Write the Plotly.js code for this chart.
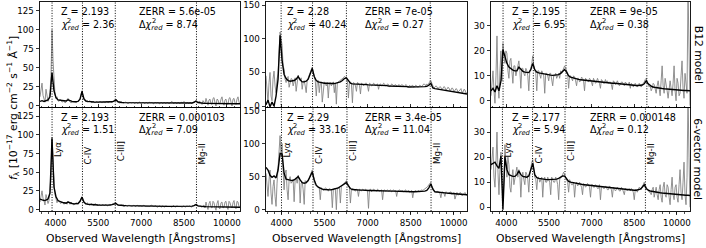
<!DOCTYPE html>
<html><head><meta charset="utf-8">
<script src="https://cdn.plot.ly/plotly-3.0.1.min.js"></script>
<style>html,body{margin:0;padding:0;background:#fff}#chart{width:706px;height:248px}</style>
</head><body><div id="chart"></div>
<script>
// Model wavelength grid (Angstroms)
const wavelength = [
3460,3530,3600,3670,3740,3810,3880,3950,4020,4090,
4160,4230,4300,4370,4440,4510,4580,4650,4720,4790,
4860,4930,5000,5070,5140,5210,5280,5350,5420,5490,
5560,5630,5700,5770,5840,5910,5980,6050,6120,6190,
6260,6330,6400,6470,6540,6610,6680,6750,6820,6890,
6960,7030,7100,7170,7240,7310,7380,7450,7520,7590,
7660,7730,7800,7870,7940,8010,8080,8150,8220,8290,
8360,8430,8500,8570,8640,8710,8780,8850,8920,8990,
9060,9130,9200,9270,9340,9410,9480,9550,9620,9690,
9760,9830,9900,9970,10040,10110,10180,10250,10320,10390,
10460];
// Observed spectrum wavelength grid (Angstroms)
const obsWavelength = [
3460,3495,3530,3565,3600,3635,3670,3705,3740,3775,
3810,3845,3880,3915,3950,3985,4020,4055,4090,4125,
4160,4195,4230,4265,4300,4335,4370,4405,4440,4475,
4510,4545,4580,4615,4650,4685,4720,4755,4790,4825,
4860,4895,4930,4965,5000,5035,5070,5105,5140,5175,
5210,5245,5280,5315,5350,5385,5420,5455,5490,5525,
5560,5595,5630,5665,5700,5735,5770,5805,5840,5875,
5910,5945,5980,6015,6050,6085,6120,6155,6190,6225,
6260,6295,6330,6365,6400,6435,6470,6505,6540,6575,
6610,6645,6680,6715,6750,6785,6820,6855,6890,6925,
6960,6995,7030,7065,7100,7135,7170,7205,7240,7275,
7310,7345,7380,7415,7450,7485,7520,7555,7590,7625,
7660,7695,7730,7765,7800,7835,7870,7905,7940,7975,
8010,8045,8080,8115,8150,8185,8220,8255,8290,8325,
8360,8395,8430,8465,8500,8535,8570,8605,8640,8675,
8710,8745,8780,8815,8850,8885,8920,8955,8990,9025,
9060,9095,9130,9165,9200,9235,9270,9305,9340,9375,
9410,9445,9480,9515,9550,9585,9620,9655,9690,9725,
9760,9795,9830,9865,9900,9935,9970,10005,10040,10075,
10110,10145,10180,10215,10250,10285,10320,10355,10390,10425,
10460];

// Panel meta (order: B12 row cols 1-3, then 6-vector row cols 1-3)
const redshift = [2.193, 2.28, 2.195, 2.193, 2.29, 2.177];
const zLabel = ["2.193","2.28","2.195","2.193","2.29","2.177"];
const zerrLabel = ["5.6e-05","7e-05","9e-05","0.000103","3.4e-05","0.000148"];
const chi2Label = ["2.36","40.24","6.95","1.51","33.16","5.94"];
const dchi2Label = ["8.74","0.27","0.38","7.09","11.04","0.12"];
const rowNames = ["B12 model","6-vector model"];
const lineNames = ["Lyα","C-IV","C-III]","Mg-II"];
const lineRest = [1215.67,1549.06,1908.73,2798.75];

// Observed flux (grey, on obsWavelength), 1e-17 erg/cm2/s/A
const obsTop1 = [12,20,30,14,8,5,22,15,6,10,18,40,100,60,28,15,10,12,7,6,
 9,7,5,6,7,4,5,8,10,7,6,4,5,6,6,5,4,5,6,8,
 9,14,20,13,9,7,6,5,5,6,7,5,4,6,5,4,5,6,4,5,
 6,5,4,5,5,4,5,6,4,5,6,5,5,6,7,8,9,7,5,4,
 4,5,5,4,4,5,5,4,3,4,5,4,4,5,4,3,5,4,3,5,
 5,3,4,5,4,3,5,4,3,5,4,4,5,3,3,5,4,4,5,3,
 3,5,4,3,5,4,3,5,4,3,4,5,6,4,3,5,4,3,5,4,
 3,5,4,4,6,4,3,5,4,3,5,4,3,5,6,5,7,5,4,6,
 6,4,2,7,5,3,10,4,1,8,9,3,2,10,11,4,0,9,8,3,
 3,9,12,4,1,8,9,3,2,10,11,5,0,9,10,4,2,9,12,5, 3];
const obsTop2 = [45,20,5,35,50,15,8,40,52,30,20,40,48,80,110,100,90,60,55,40,
 35,42,44,28,33,41,40,30,36,42,22,40,46,40,38,42,25,36,38,30,
 20,38,42,45,50,55,58,50,42,38,15,36,38,20,34,36,6,30,36,34,
 30,35,12,34,35,30,33,36,20,34,3,35,36,37,38,39,40,42,44,43,
 40,38,12,34,36,33,5,35,34,30,22,35,34,31,18,34,33,30,32,34,
 34,30,22,34,33,30,31,34,33,30,32,33,25,32,33,30,31,34,33,30,
 31,33,32,29,30,33,32,30,31,32,30,29,32,31,30,32,31,29,29,32,
 31,28,30,31,29,30,31,28,29,31,30,28,29,31,30,29,31,33,32,31,
 33,31,34,36,38,34,30,27,28,30,29,26,27,29,28,25,26,29,28,24,
 25,28,27,23,24,27,26,22,23,26,25,21,22,25,26,20,21,25,24,19, 20];
const obsTop3 = [2,8,12,4,-1,10,26,6,1,12,20,8,23,18,15,20,19,12,9,16,
 17,12,7,14,14,10,12,15,16,12,5,13,13,11,10,13,12,10,4,12,
 13,15,18,14,12,11,4,12,12,10,9,12,11,10,3,11,11,10,8,11,
 11,9,6,10,10,11,9,10,11,9,12,11,12,13,14,13,12,11,5,10,
 10,9,8,10,9.5,8,6,9,9,7.5,8,9.5,9,8,4,9,8.5,8,7.5,9,
 8.5,7.5,6,9,8,7,7.5,9,8,7,5,8.5,8,7,7,8.5,7.5,8,7,7.5,
 7.5,6.5,4.5,8,7.5,6.5,7,8,7,6,6.5,7.5,7.5,6.5,6,7.5,7,6.5,6.5,7.5,
 5,7,6.5,5.5,6.5,7,6,5.5,6.5,7,6,5.5,6.5,7,7.5,8.5,9,7.5,6.5,5.5,
 6,4,5,7,6.5,4.5,3,6,8,5,2,8,14,6,3,9,7,4,1,6,
 8,5,2,7,14,4,0,9,7,2,3,10,16,5,1,11,8,3,45,15, -2];
const obsBot1 = [10,18,25,15,12,6,20,14,8,12,24,45,97,55,35,20,14,9,12,10,
 9,8,11,9,7,10,9,7,11,8,7,9,9,7,6,8,8,9,7,8,
 10,14,17,14,10,8,7,9,8,6,6,8,7,6,5,8,7,6,5,7,
 6,5,6,7,5,6,7,5,5,7,6,6,7,7,8,9,9,7,6,5,
 5,6,6,5,4,5,6,4,5,6,5,4,4,5,6,4,4,6,5,4,
 5,4,4,5,6,4,4,5,5,4,4,6,5,4,4,5,5,3,4,5,
 5,3,4,5,3,4,5,4,4,5,5,4,3,5,5,3,4,5,4,4,
 5,4,3,4,5,3,4,5,4,5,5,3,4,5,6,6,7,6,5,4,
 5,4,3,5,6,2,10,4,0,8,11,3,2,11,9,3,-1,8,12,2,
 1,9,10,2,3,10,11,3,0,11,9,4,2,9,12,3,1,11,10,4, 2];
const obsBot2 = [55,30,20,45,60,25,8,35,45,20,5,40,65,90,112,80,100,60,30,55,
 60,30,15,45,50,40,42,46,12,45,48,40,52,46,10,40,42,30,8,44,
 40,44,45,48,52,55,60,52,44,38,36,35,34,33,15,33,32,29,30,33,
 32,31,28,32,31,30,3,30,32,31,0,33,33,34,10,35,36,38,40,42,
 44,40,38,34,10,30,32,31,30,28,31,30,20,31,30,28,31,30,29,31,
 30,28,2,30,31,27,29,31,30,29,28,31,30,28,29,30,15,29,30,28,
 29,30,28,29,30,27,29,30,28,29,20,28,29,30,28,29,29,27,28,30,
 27,28,29,26,28,29,18,27,28,29,27,28,29,27,28,30,29,30,31,32,
 33,35,38,40,41,36,32,30,28,26,27,28,26,25,18,26,27,25,20,27,
 26,24,25,26,27,23,24,26,16,24,26,22,23,26,25,21,22,24,26,23, 21];
const obsBot3 = [15,20,24,12,8,18,30,14,5,15,22,12,3,10,25,18,12,20,17,8,
 6,12,15,9,11,14,16,12,15,13,4,12,14,11,9,14,13,11,6,13,
 16,18,19,14,12,11,7,12,12,10,11,12,4,11,12,10,10,12,11,10,
 5,12,11,10,10,12,11,9,3,11,12,12,13,14,13,12,11,10,6,11,
 10,9,9,10,4,9,10,8.5,9,10,9,8,5,9.5,9,8,8.5,9.5,9,8,
 4,9,9,8,8,9,8.5,7.5,7.5,9,3,8,8.5,7.5,7.5,8.5,8,7,7,8.5,
 8,7,4,8,7.5,6.5,7,8,7.5,6.5,6.5,8,7.5,6.5,5,7.5,7,6.5,7,7.5,
 6.5,7.5,7,6,3,7,7,6,7,8,7.5,7,8.5,9,10,9,8,7,7,6,
 6,5,7,8,4,6,8,5,3,7,9,4,2,8,10,5,4,9,8,4,
 1,7,12,5,3,8,9,4,2,9,15,6,3,10,18,5,1,12,45,20, 0];

// Model fit (black, on wavelength)
const fitTop1 = [6,7,6,7,8,12,44,20,11,8, 7.5,7,6.5,6.5,8,6.5,6,5.5,5.5,6, 9,19,9,6.5,6,6,5.5,5.2,5,5, 4.8,4.8,4.7,4.7,4.8,5,5.5,6.5,8,5.5,
 4.6,4.5,4.4,4.4,4.3,4.3,4.2,4.2,4.1,4.1, 4,4,4,3.9,3.9,3.9,3.8,3.8,3.8,3.8, 3.7,3.7,3.7,3.7,3.6,3.6,3.6,3.6,3.6,3.5,
 3.5,3.5,3.5,3.5,3.6,3.7,4,4.8,6.5,4.5, 3.8,3.5,3.4,3.4,3.3,3.3,3.3,3.2,3.2,3.2, 3.2,3.1,3.1,3.1,3.1,3.1,3,3,3,3, 3];
const fitTop2 = [2,9,-1,6,0,15,40,105,68,47, 41,38,37,37,38,40,44,39,36,36, 37,40,47,56,44,38,36,35,34.5,34, 34,33.5,33.5,33.5,33.5,34,35,36,38,41,
 42,37,34,33,33,32.5,32.5,32,32,32, 32,31.5,31.5,31.5,31,31,31,31,30.5,30.5, 30.5,30,30,30,30,29.5,29.5,29.5,29,29,
 29,28.5,28.5,28.5,28,28,28,28,28.5,29, 29.5,31,34,27,26,25.5,25,24.5,24,23.5, 23,22.5,22,21.5,21,20.5,20,19.5,19,18.5, 18];
const fitTop3 = [4,5,3.5,6,4,8,20.5,18,15,13.5, 12.8,12.3,12,12,13.5,12.5,11.8,11.5,11.3,11.3, 12.5,15,12.5,11.5,11.2,11,10.8,10.6,10.5,10.4,
 10.3,10.2,10.2,10.3,10.5,11,11.8,12.5,11.5,10, 9.5,9.2,9,8.8,8.6,8.4,8.3,8.2,8.1,8, 7.9,7.8,7.7,7.6,7.5,7.5,7.4,7.3,7.2,7.1,
 7.1,7,7,6.9,6.8,6.8,6.7,6.6,6.6,6.5, 6.4,6.3,6.2,6.1,6.1,6.1,6.3,6.8,8,6.8, 6,5.6,5.4,5.2,5.1,5,4.9,4.8,4.7,4.6,
 4.5,4.4,4.4,4.3,4.3,4.2,4.2,4.1,4.1,4, 4];
const fitBot1 = [14,13,12,12.5,14,22,95,30,17,12, 10.5,9.5,9,8.5,10,8.5,8,7.5,7.5,8, 11,16.5,9.5,7.5,7,7,6.5,6.3,6.1,6, 5.9,5.8,5.7,5.7,5.8,6,6.5,7.2,8,6,
 5.5,5.4,5.3,5.2,5.1,5,5,4.9,4.9,4.8, 4.8,4.7,4.7,4.6,4.6,4.5,4.5,4.5,4.4,4.4, 4.4,4.3,4.3,4.3,4.2,4.2,4.2,4.2,4.1,4.1,
 4.1,4.1,4.1,4.1,4.1,4.2,4.5,5.2,6.5,4.8, 4.2,4,3.9,3.8,3.8,3.7,3.7,3.6,3.6,3.5, 3.5,3.5,3.4,3.4,3.3,3.3,3.3,3.2,3.2,3.2, 3.1];
const fitBot2 = [64,60,52,49,51,48,60,85,84,55, 46,45,44,44,45,47,50,45,41,40, 41,44,50,57,45,37,34,32,31,30.5, 30,30,30,30.5,31,32,33,35,37,40,
 41,36,32,30.5,30,30,29.5,29.5,29.5,29, 29,29,29,28.8,28.8,28.6,28.6,28.4,28.4,28.2, 28.2,28,28,28,27.8,27.8,27.6,27.6,27.4,27.4,
 27.2,27.2,27,27,27,27,27,27,27.5,28, 29,33,39,31,27,26.5,26,25.8,25.5,25.2, 25,24.8,24.5,24.2,24,23.8,23.5,23.3,23,22.8, 22.5];
const fitBot3 = [17,17.5,18,16.5,15.5,20.5,-1,20,15,13, 12.5,12.3,12.3,13,14.5,13,12.3,12,12,12.5, 15,17.5,13,11.8,11.5,11.3,11.2,11.1,11,11,
 11,11,11,11.2,11.5,12,12.5,12.4,11.3,10.3, 10,9.8,9.6,9.4,9.3,9.2,9.1,9,8.9,8.8, 8.7,8.6,8.5,8.4,8.3,8.2,8.1,8,7.9,7.8,
 7.7,7.6,7.5,7.4,7.4,7.3,7.2,7.2,7.1,7, 7,6.9,6.8,6.8,6.9,7.2,8,9,7.5,6.8, 6.5,6.3,6.1,6,5.9,5.8,5.7,5.6,5.5,5.4,
 5.3,5.2,5.1,5.1,5,5,4.9,4.9,4.8,4.8, 4.7];

const xTickVals = [4000,5500,7000,8500,10000];

// ---------- layout / drawing ----------
const obsAll = [obsTop1, obsTop2, obsTop3, obsBot1, obsBot2, obsBot3];
const fitAll = [fitTop1, fitTop2, fitTop3, fitBot1, fitBot2, fitBot3];
const W = 706, H = 248;
const colPx = [[40,240],[266,467],[491,690]];
const rowPx = [[2,107.5],[107.5,211]];
const yRanges = [[-2,136.5],[-2,154.5],[-2.7,39.6],[-2,136.5],[-2,154.5],[-1.5,39.8]];
const yDticks = [25,50,10,25,50,10];
const labelOffsets = [42.5,47.5,43.5,46.5];
const FONT = "DejaVu Sans, Arial, sans-serif";
const TXT = 9.6;

const traces = [];
const shapes = [];
const annotations = [];
const layout = {
  width: W, height: H, margin:{l:0,r:0,t:0,b:0},
  paper_bgcolor:'#fff', plot_bgcolor:'#fff', showlegend:false,
  font:{family:FONT, color:'#000', size:9}
};
for (let i=0;i<6;i++){
  const n = i+1, s = n===1 ? '' : String(n);
  const col = i%3, row = Math.floor(i/3);
  traces.push({type:'scatter', mode:'lines', x:obsWavelength, y:obsAll[i], xaxis:'x'+s, yaxis:'y'+s,
    line:{color:'#858585', width:0.9}, hoverinfo:'skip'});
  traces.push({type:'scatter', mode:'lines', x:wavelength, y:fitAll[i], xaxis:'x'+s, yaxis:'y'+s,
    line:{color:'#000', width:1.4}, hoverinfo:'skip'});
  const tickDir = row===0 ? 'inside' : 'outside';
  layout['xaxis'+s] = {
    domain:[colPx[col][0]/W, colPx[col][1]/W], anchor:'y'+s, range:[3460,10460],
    tickmode:'array', tickvals:xTickVals, ticktext:xTickVals.map(String),
    ticks:tickDir, ticklen:3.5, tickwidth:0.8, tickcolor:'#000',
    minor:{dtick:250, tick0:4000, ticks:tickDir, ticklen:2, tickwidth:0.7, tickcolor:'#000', showgrid:false},
    showticklabels: row===1, tickfont:{size:8.7, family:FONT, color:'#000'},
    showline:true, mirror:true, linecolor:'#000', linewidth:0.9,
    showgrid:false, zeroline:false, fixedrange:true
  };
  layout['yaxis'+s] = {
    domain:[1-rowPx[row][1]/H, 1-rowPx[row][0]/H], anchor:'x'+s, range:yRanges[i],
    tick0:0, dtick:yDticks[i], ticks:'outside', ticklen:3.5, tickwidth:0.8, tickcolor:'#000',
    tickfont:{size:8.7, family:FONT, color:'#000'},
    showline:true, mirror:true, linecolor:'#000', linewidth:0.9,
    showgrid:false, zeroline:false, fixedrange:true
  };
  // emission line markers
  for (let j=0;j<lineRest.length;j++){
    const lam = lineRest[j]*(1+redshift[i]);
    shapes.push({type:'line', xref:'x'+s, yref:'y'+s+' domain', x0:lam, x1:lam, y0:0, y1:1,
      line:{color:'#000', width:1, dash:'1px,1.6px'}});
    if (row===1){
      annotations.push({xref:'x'+s, yref:'y'+s+' domain', x:lam, y:1, yshift:-labelOffsets[j],
        xshift:6, xanchor:'center', yanchor:'middle', textangle:-90, showarrow:false,
        text:lineNames[j], font:{size:8.7, family:FONT, color:'#000'}});
    }
  }
  // fit statistics text (chi^2 superscript stacked over the "red" subscript)
  const tf = {size:TXT, family:FONT, color:'#000'};
  const sf = {size:TXT*0.7, family:FONT, color:'#000'};
  const common = {xref:'x'+s+' domain', yref:'y'+s+' domain', y:1, xanchor:'left', yanchor:'middle', showarrow:false, font:tf};
  annotations.push(Object.assign({}, common, {x:0.095, yshift:-10, text:'Z = '+zLabel[i]}));
  annotations.push(Object.assign({}, common, {x:0.095, yshift:-23, text:'<i>χ</i><sub><i>red</i></sub> = '+chi2Label[i]}));
  annotations.push(Object.assign({}, common, {x:0.095, xshift:5.9, yshift:-18.5, text:'2', font:sf}));
  annotations.push(Object.assign({}, common, {x:0.485, yshift:-10, text:'ZERR = '+zerrLabel[i]}));
  annotations.push(Object.assign({}, common, {x:0.485, yshift:-23, text:'Δ<i>χ</i><sub><i>red</i></sub> = '+dchi2Label[i]}));
  annotations.push(Object.assign({}, common, {x:0.485, xshift:12.5, yshift:-18.5, text:'2', font:sf}));
  if (row===1){
    annotations.push({xref:'x'+s+' domain', yref:'paper', x:0.5, y:1-238.5/H, xanchor:'center', yanchor:'middle',
      showarrow:false, text:'Observed Wavelength [Ångstroms]', font:{size:10.8, family:FONT, color:'#000'}});
  }
}
// row labels on the right
for (let r=0;r<2;r++){
  annotations.push({xref:'paper', yref:'paper', x:698/W, y:1-(rowPx[r][0]+rowPx[r][1])/2/H, xanchor:'center', yanchor:'middle',
    textangle:90, showarrow:false, text:rowNames[r], font:{size:10.8, family:FONT, color:'#000'}});
}
// y-axis title
annotations.push({xref:'paper', yref:'paper', x:13/W, y:1-108/H, xanchor:'center', yanchor:'middle', textangle:-90,
  showarrow:false, text:'<i>f</i><sub>λ</sub> [10<sup>−17</sup> erg cm<sup>−2</sup> s<sup>−1</sup> Å<sup>−1</sup>]',
  font:{size:10.8, family:FONT, color:'#000'}});

layout.shapes = shapes;
layout.annotations = annotations;
Plotly.newPlot('chart', traces, layout, {staticPlot:true, displayModeBar:false});
</script>
</body></html>
